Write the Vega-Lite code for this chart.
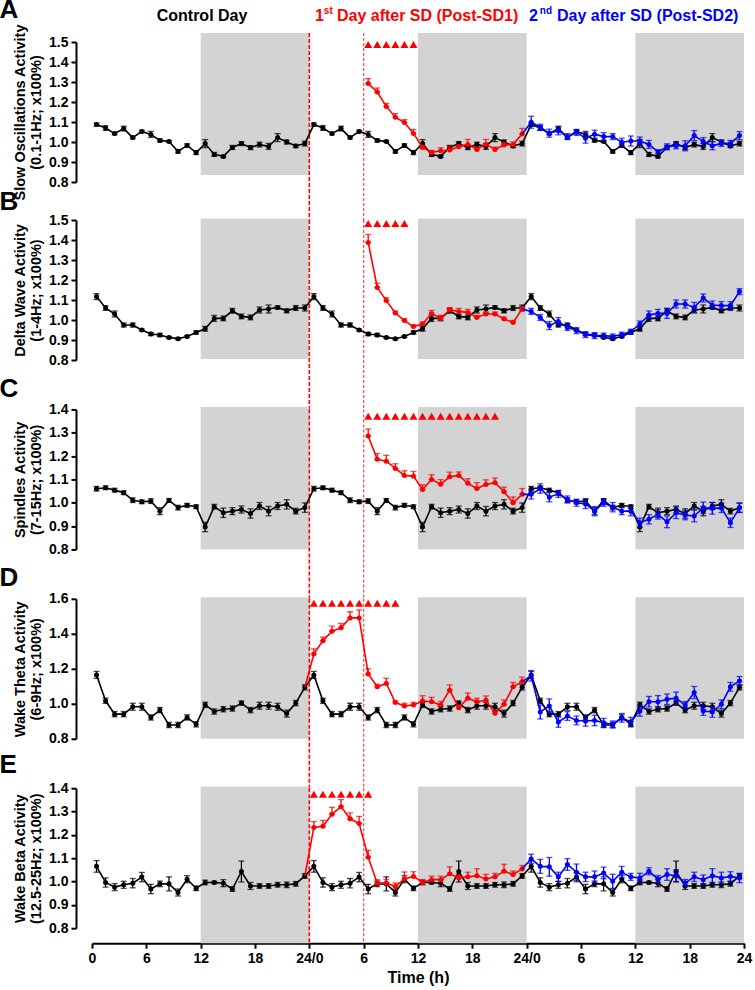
{
"$schema":"https://vega.github.io/schema/vega-lite/v6.json",
"background":"white",
"padding":{"left":-1,"top":-3,"right":5,"bottom":0},
"bounds":"flush",
"spacing":38,
"datasets":{
"dark":[{"h":12,"h2":24},{"h":36,"h2":48},{"h":60,"h2":72}],
"Ac":[{"h":0.5,"v":1.087,"e":0.008},{"h":1.5,"v":1.07,"e":0.012},{"h":2.5,"v":1.042,"e":0.006},{"h":3.5,"v":1.067,"e":0.012},{"h":4.5,"v":1.022,"e":0.006},{"h":5.5,"v":1.053,"e":0.006},{"h":6.5,"v":1.038,"e":0.015},{"h":7.5,"v":1.008,"e":0.008},{"h":8.5,"v":1.003,"e":0.005},{"h":9.5,"v":0.953,"e":0.008},{"h":10.5,"v":0.983,"e":0.008},{"h":11.5,"v":0.947,"e":0.01},{"h":12.5,"v":0.992,"e":0.02},{"h":13.5,"v":0.938,"e":0.01},{"h":14.5,"v":0.928,"e":0.006},{"h":15.5,"v":0.973,"e":0.01},{"h":16.5,"v":0.992,"e":0.01},{"h":17.5,"v":0.972,"e":0.01},{"h":18.5,"v":0.987,"e":0.012},{"h":19.5,"v":0.978,"e":0.015},{"h":20.5,"v":1.022,"e":0.02},{"h":21.5,"v":1.0,"e":0.01},{"h":22.5,"v":0.98,"e":0.008},{"h":23.5,"v":0.992,"e":0.012},
{"h":24.5,"v":1.087,"e":0.008},{"h":25.5,"v":1.07,"e":0.012},{"h":26.5,"v":1.042,"e":0.006},{"h":27.5,"v":1.067,"e":0.012},{"h":28.5,"v":1.022,"e":0.006},{"h":29.5,"v":1.053,"e":0.006},{"h":30.5,"v":1.038,"e":0.015},{"h":31.5,"v":1.008,"e":0.008},{"h":32.5,"v":1.003,"e":0.005},{"h":33.5,"v":0.953,"e":0.008},{"h":34.5,"v":0.983,"e":0.008},{"h":35.5,"v":0.947,"e":0.01},{"h":36.5,"v":0.992,"e":0.02},{"h":37.5,"v":0.938,"e":0.01},{"h":38.5,"v":0.928,"e":0.006},{"h":39.5,"v":0.973,"e":0.01},{"h":40.5,"v":0.992,"e":0.01},{"h":41.5,"v":0.972,"e":0.01},{"h":42.5,"v":0.987,"e":0.012},{"h":43.5,"v":0.978,"e":0.015},{"h":44.5,"v":1.022,"e":0.02},{"h":45.5,"v":1.0,"e":0.01},{"h":46.5,"v":0.98,"e":0.008},{"h":47.5,"v":0.992,"e":0.012},
{"h":48.5,"v":1.087,"e":0.008},{"h":49.5,"v":1.07,"e":0.012},{"h":50.5,"v":1.042,"e":0.006},{"h":51.5,"v":1.067,"e":0.012},{"h":52.5,"v":1.022,"e":0.006},{"h":53.5,"v":1.053,"e":0.006},{"h":54.5,"v":1.038,"e":0.015},{"h":55.5,"v":1.008,"e":0.008},{"h":56.5,"v":1.003,"e":0.005},{"h":57.5,"v":0.953,"e":0.008},{"h":58.5,"v":0.983,"e":0.008},{"h":59.5,"v":0.947,"e":0.01},{"h":60.5,"v":0.992,"e":0.02},{"h":61.5,"v":0.938,"e":0.01},{"h":62.5,"v":0.928,"e":0.006},{"h":63.5,"v":0.973,"e":0.01},{"h":64.5,"v":0.992,"e":0.01},{"h":65.5,"v":0.972,"e":0.01},{"h":66.5,"v":0.987,"e":0.012},{"h":67.5,"v":0.978,"e":0.015},{"h":68.5,"v":1.022,"e":0.02},{"h":69.5,"v":1.0,"e":0.01},{"h":70.5,"v":0.98,"e":0.008},{"h":71.5,"v":0.992,"e":0.012}],
"Ar":[{"h":30.5,"v":1.292,"e":0.025,"e2":0},{"h":31.5,"v":1.25,"e":0.02,"e2":0},{"h":32.5,"v":1.178,"e":0.015,"e2":0},{"h":33.5,"v":1.124,"e":0.018,"e2":0},{"h":34.5,"v":1.097,"e":0.015,"e2":0},{"h":35.5,"v":1.043,"e":0.02,"e2":0},{"h":36.5,"v":0.973,"e":0.01,"e2":0},{"h":37.5,"v":0.948,"e":0.01,"e2":0},{"h":38.5,"v":0.956,"e":0.015,"e2":0},{"h":39.5,"v":0.96,"e":0.02,"e2":0},{"h":40.5,"v":0.976,"e":0.01,"e2":0},{"h":41.5,"v":0.988,"e":0.025,"e2":0},{"h":42.5,"v":0.963,"e":0.01,"e2":0},{"h":43.5,"v":0.988,"e":0.025,"e2":0},{"h":44.5,"v":0.963,"e":0.012,"e2":0},{"h":45.5,"v":0.985,"e":0.012,"e2":0},{"h":46.5,"v":0.988,"e":0.012,"e2":0},{"h":47.5,"v":1.04,"e":0.028,"e2":0}],
"Ab":[{"h":47.5,"v":1.04},{"h":48.5,"v":1.099,"e":0.03},{"h":49.5,"v":1.074,"e":0.015},{"h":50.5,"v":1.044,"e":0.02},{"h":51.5,"v":1.056,"e":0.02},{"h":52.5,"v":1.027,"e":0.015},{"h":53.5,"v":1.048,"e":0.015},{"h":54.5,"v":1.019,"e":0.025},{"h":55.5,"v":1.039,"e":0.02},{"h":56.5,"v":1.027,"e":0.02},{"h":57.5,"v":1.027,"e":0.015},{"h":58.5,"v":0.999,"e":0.02},{"h":59.5,"v":1.005,"e":0.025},{"h":60.5,"v":1.005,"e":0.02},{"h":61.5,"v":0.988,"e":0.02},{"h":62.5,"v":0.951,"e":0.01},{"h":63.5,"v":0.976,"e":0.015},{"h":64.5,"v":0.981,"e":0.015},{"h":65.5,"v":0.981,"e":0.025},{"h":66.5,"v":1.032,"e":0.025},{"h":67.5,"v":1.002,"e":0.02},{"h":68.5,"v":0.981,"e":0.02},{"h":69.5,"v":0.993,"e":0.015},{"h":70.5,"v":0.993,"e":0.015},{"h":71.5,"v":1.032,"e":0.02}],
"At":[{"h":30.5},{"h":31.5},{"h":32.5},{"h":33.5},{"h":34.5},{"h":35.5}],
"Bc":[{"h":0.5,"v":1.117,"e":0.015},{"h":1.5,"v":1.06,"e":0.012},{"h":2.5,"v":1.03,"e":0.015},{"h":3.5,"v":0.975,"e":0.01},{"h":4.5,"v":0.975,"e":0.01},{"h":5.5,"v":0.95,"e":0.005},{"h":6.5,"v":0.93,"e":0.008},{"h":7.5,"v":0.925,"e":0.008},{"h":8.5,"v":0.913,"e":0.005},{"h":9.5,"v":0.906,"e":0.005},{"h":10.5,"v":0.918,"e":0.005},{"h":11.5,"v":0.938,"e":0.008},{"h":12.5,"v":0.956,"e":0.012},{"h":13.5,"v":1.008,"e":0.015},{"h":14.5,"v":1.008,"e":0.012},{"h":15.5,"v":1.046,"e":0.012},{"h":16.5,"v":1.018,"e":0.012},{"h":17.5,"v":1.013,"e":0.012},{"h":18.5,"v":1.05,"e":0.015},{"h":19.5,"v":1.055,"e":0.02},{"h":20.5,"v":1.063,"e":0.008},{"h":21.5,"v":1.046,"e":0.01},{"h":22.5,"v":1.06,"e":0.012},{"h":23.5,"v":1.06,"e":0.015},
{"h":24.5,"v":1.117,"e":0.015},{"h":25.5,"v":1.06,"e":0.012},{"h":26.5,"v":1.03,"e":0.015},{"h":27.5,"v":0.975,"e":0.01},{"h":28.5,"v":0.975,"e":0.01},{"h":29.5,"v":0.95,"e":0.005},{"h":30.5,"v":0.93,"e":0.008},{"h":31.5,"v":0.925,"e":0.008},{"h":32.5,"v":0.913,"e":0.005},{"h":33.5,"v":0.906,"e":0.005},{"h":34.5,"v":0.918,"e":0.005},{"h":35.5,"v":0.938,"e":0.008},{"h":36.5,"v":0.956,"e":0.012},{"h":37.5,"v":1.008,"e":0.015},{"h":38.5,"v":1.008,"e":0.012},{"h":39.5,"v":1.046,"e":0.012},{"h":40.5,"v":1.018,"e":0.012},{"h":41.5,"v":1.013,"e":0.012},{"h":42.5,"v":1.05,"e":0.015},{"h":43.5,"v":1.055,"e":0.02},{"h":44.5,"v":1.063,"e":0.008},{"h":45.5,"v":1.046,"e":0.01},{"h":46.5,"v":1.06,"e":0.012},{"h":47.5,"v":1.06,"e":0.015},
{"h":48.5,"v":1.117,"e":0.015},{"h":49.5,"v":1.06,"e":0.012},{"h":50.5,"v":1.03,"e":0.015},{"h":51.5,"v":0.975,"e":0.01},{"h":52.5,"v":0.975,"e":0.01},{"h":53.5,"v":0.95,"e":0.005},{"h":54.5,"v":0.93,"e":0.008},{"h":55.5,"v":0.925,"e":0.008},{"h":56.5,"v":0.913,"e":0.005},{"h":57.5,"v":0.906,"e":0.005},{"h":58.5,"v":0.918,"e":0.005},{"h":59.5,"v":0.938,"e":0.008},{"h":60.5,"v":0.956,"e":0.012},{"h":61.5,"v":1.008,"e":0.015},{"h":62.5,"v":1.008,"e":0.012},{"h":63.5,"v":1.046,"e":0.012},{"h":64.5,"v":1.018,"e":0.012},{"h":65.5,"v":1.013,"e":0.012},{"h":66.5,"v":1.05,"e":0.015},{"h":67.5,"v":1.055,"e":0.02},{"h":68.5,"v":1.063,"e":0.008},{"h":69.5,"v":1.046,"e":0.01},{"h":70.5,"v":1.06,"e":0.012},{"h":71.5,"v":1.06,"e":0.015}],
"Br":[{"h":30.5,"v":1.388,"e":0.04,"e2":0},{"h":31.5,"v":1.163,"e":0.02,"e2":0},{"h":32.5,"v":1.097,"e":0.015,"e2":0},{"h":33.5,"v":1.035,"e":0.01,"e2":0},{"h":34.5,"v":0.997,"e":0.01,"e2":0},{"h":35.5,"v":0.967,"e":0.008,"e2":0},{"h":36.5,"v":0.98,"e":0.01,"e2":0},{"h":37.5,"v":1.033,"e":0.015,"e2":0},{"h":38.5,"v":1.008,"e":0.015,"e2":0},{"h":39.5,"v":1.05,"e":0.012,"e2":0},{"h":40.5,"v":1.043,"e":0.015,"e2":0},{"h":41.5,"v":1.038,"e":0.015,"e2":0},{"h":42.5,"v":1.013,"e":0.01,"e2":0},{"h":43.5,"v":1.03,"e":0.01,"e2":0},{"h":44.5,"v":1.03,"e":0.01,"e2":0},{"h":45.5,"v":1.005,"e":0.01,"e2":0},{"h":46.5,"v":0.988,"e":0.01,"e2":0},{"h":47.5,"v":1.055,"e":0.012,"e2":0}],
"Bb":[{"h":47.5,"v":1.055},{"h":48.5,"v":1.043,"e":0.015},{"h":49.5,"v":1.013,"e":0.015},{"h":50.5,"v":0.972,"e":0.02},{"h":51.5,"v":0.992,"e":0.02},{"h":52.5,"v":0.963,"e":0.015},{"h":53.5,"v":0.947,"e":0.015},{"h":54.5,"v":0.927,"e":0.015},{"h":55.5,"v":0.922,"e":0.015},{"h":56.5,"v":0.922,"e":0.012},{"h":57.5,"v":0.918,"e":0.012},{"h":58.5,"v":0.927,"e":0.012},{"h":59.5,"v":0.942,"e":0.012},{"h":60.5,"v":0.98,"e":0.015},{"h":61.5,"v":1.025,"e":0.02},{"h":62.5,"v":1.033,"e":0.02},{"h":63.5,"v":1.033,"e":0.025},{"h":64.5,"v":1.08,"e":0.02},{"h":65.5,"v":1.08,"e":0.02},{"h":66.5,"v":1.063,"e":0.025},{"h":67.5,"v":1.11,"e":0.02},{"h":68.5,"v":1.075,"e":0.02},{"h":69.5,"v":1.072,"e":0.02},{"h":70.5,"v":1.072,"e":0.02},{"h":71.5,"v":1.142,"e":0.015}],
"Bt":[{"h":30.5},{"h":31.5},{"h":32.5},{"h":33.5},{"h":34.5}],
"Cc":[{"h":0.5,"v":1.06,"e":0.01},{"h":1.5,"v":1.064,"e":0.008},{"h":2.5,"v":1.054,"e":0.008},{"h":3.5,"v":1.043,"e":0.008},{"h":4.5,"v":1.011,"e":0.01},{"h":5.5,"v":1.004,"e":0.008},{"h":6.5,"v":1.007,"e":0.01},{"h":7.5,"v":0.964,"e":0.015},{"h":8.5,"v":1.01,"e":0.008},{"h":9.5,"v":0.979,"e":0.01},{"h":10.5,"v":0.989,"e":0.008},{"h":11.5,"v":0.983,"e":0.008},{"h":12.5,"v":0.896,"e":0.02},{"h":13.5,"v":0.983,"e":0.01},{"h":14.5,"v":0.957,"e":0.02},{"h":15.5,"v":0.964,"e":0.015},{"h":16.5,"v":0.971,"e":0.015},{"h":17.5,"v":0.954,"e":0.02},{"h":18.5,"v":0.986,"e":0.015},{"h":19.5,"v":0.964,"e":0.02},{"h":20.5,"v":0.986,"e":0.015},{"h":21.5,"v":0.993,"e":0.02},{"h":22.5,"v":0.964,"e":0.012},{"h":23.5,"v":0.979,"e":0.02},
{"h":24.5,"v":1.06,"e":0.01},{"h":25.5,"v":1.064,"e":0.008},{"h":26.5,"v":1.054,"e":0.008},{"h":27.5,"v":1.043,"e":0.008},{"h":28.5,"v":1.011,"e":0.01},{"h":29.5,"v":1.004,"e":0.008},{"h":30.5,"v":1.007,"e":0.01},{"h":31.5,"v":0.964,"e":0.015},{"h":32.5,"v":1.01,"e":0.008},{"h":33.5,"v":0.979,"e":0.01},{"h":34.5,"v":0.989,"e":0.008},{"h":35.5,"v":0.983,"e":0.008},{"h":36.5,"v":0.896,"e":0.02},{"h":37.5,"v":0.983,"e":0.01},{"h":38.5,"v":0.957,"e":0.02},{"h":39.5,"v":0.964,"e":0.015},{"h":40.5,"v":0.971,"e":0.015},{"h":41.5,"v":0.954,"e":0.02},{"h":42.5,"v":0.986,"e":0.015},{"h":43.5,"v":0.964,"e":0.02},{"h":44.5,"v":0.986,"e":0.015},{"h":45.5,"v":0.993,"e":0.02},{"h":46.5,"v":0.964,"e":0.012},{"h":47.5,"v":0.979,"e":0.02},
{"h":48.5,"v":1.06,"e":0.01},{"h":49.5,"v":1.064,"e":0.008},{"h":50.5,"v":1.054,"e":0.008},{"h":51.5,"v":1.043,"e":0.008},{"h":52.5,"v":1.011,"e":0.01},{"h":53.5,"v":1.004,"e":0.008},{"h":54.5,"v":1.007,"e":0.01},{"h":55.5,"v":0.964,"e":0.015},{"h":56.5,"v":1.01,"e":0.008},{"h":57.5,"v":0.979,"e":0.01},{"h":58.5,"v":0.989,"e":0.008},{"h":59.5,"v":0.983,"e":0.008},{"h":60.5,"v":0.896,"e":0.02},{"h":61.5,"v":0.983,"e":0.01},{"h":62.5,"v":0.957,"e":0.02},{"h":63.5,"v":0.964,"e":0.015},{"h":64.5,"v":0.971,"e":0.015},{"h":65.5,"v":0.954,"e":0.02},{"h":66.5,"v":0.986,"e":0.015},{"h":67.5,"v":0.964,"e":0.02},{"h":68.5,"v":0.986,"e":0.015},{"h":69.5,"v":0.993,"e":0.02},{"h":70.5,"v":0.964,"e":0.012},{"h":71.5,"v":0.979,"e":0.02}],
"Cr":[{"h":30.5,"v":1.286,"e":0.03,"e2":0},{"h":31.5,"v":1.186,"e":0.025,"e2":0},{"h":32.5,"v":1.178,"e":0.025,"e2":0},{"h":33.5,"v":1.147,"e":0.02,"e2":0},{"h":34.5,"v":1.117,"e":0.02,"e2":0},{"h":35.5,"v":1.114,"e":0.02,"e2":0},{"h":36.5,"v":1.057,"e":0.02,"e2":0},{"h":37.5,"v":1.1,"e":0.02,"e2":0},{"h":38.5,"v":1.079,"e":0.02,"e2":0},{"h":39.5,"v":1.111,"e":0.02,"e2":0},{"h":40.5,"v":1.117,"e":0.015,"e2":0},{"h":41.5,"v":1.083,"e":0.02,"e2":0},{"h":42.5,"v":1.061,"e":0.025,"e2":0},{"h":43.5,"v":1.078,"e":0.02,"e2":0},{"h":44.5,"v":1.086,"e":0.02,"e2":0},{"h":45.5,"v":1.047,"e":0.02,"e2":0},{"h":46.5,"v":1.0,"e":0.025,"e2":0},{"h":47.5,"v":1.036,"e":0.025,"e2":0}],
"Cb":[{"h":47.5,"v":1.036},{"h":48.5,"v":1.036,"e":0.02},{"h":49.5,"v":1.061,"e":0.02},{"h":50.5,"v":1.024,"e":0.02},{"h":51.5,"v":1.038,"e":0.015},{"h":52.5,"v":1.014,"e":0.015},{"h":53.5,"v":1.0,"e":0.015},{"h":54.5,"v":0.995,"e":0.02},{"h":55.5,"v":0.964,"e":0.02},{"h":56.5,"v":1.0,"e":0.015},{"h":57.5,"v":0.981,"e":0.02},{"h":58.5,"v":0.964,"e":0.015},{"h":59.5,"v":0.964,"e":0.02},{"h":60.5,"v":0.914,"e":0.02},{"h":61.5,"v":0.929,"e":0.02},{"h":62.5,"v":0.95,"e":0.02},{"h":63.5,"v":0.918,"e":0.025},{"h":64.5,"v":0.957,"e":0.025},{"h":65.5,"v":0.947,"e":0.02},{"h":66.5,"v":0.943,"e":0.025},{"h":67.5,"v":0.978,"e":0.025},{"h":68.5,"v":0.976,"e":0.025},{"h":69.5,"v":0.978,"e":0.02},{"h":70.5,"v":0.914,"e":0.02},{"h":71.5,"v":0.978,"e":0.02}],
"Ct":[{"h":30.5},{"h":31.5},{"h":32.5},{"h":33.5},{"h":34.5},{"h":35.5},{"h":36.5},{"h":37.5},{"h":38.5},{"h":39.5},{"h":40.5},{"h":41.5},{"h":42.5},{"h":43.5},{"h":44.5}],
"Dc":[{"h":0.5,"v":1.165,"e":0.02},{"h":1.5,"v":1.017,"e":0.015},{"h":2.5,"v":0.941,"e":0.015},{"h":3.5,"v":0.941,"e":0.015},{"h":4.5,"v":0.983,"e":0.02},{"h":5.5,"v":0.983,"e":0.02},{"h":6.5,"v":0.922,"e":0.015},{"h":7.5,"v":0.964,"e":0.015},{"h":8.5,"v":0.879,"e":0.015},{"h":9.5,"v":0.879,"e":0.015},{"h":10.5,"v":0.922,"e":0.015},{"h":11.5,"v":0.883,"e":0.015},{"h":12.5,"v":0.994,"e":0.015},{"h":13.5,"v":0.956,"e":0.015},{"h":14.5,"v":0.969,"e":0.015},{"h":15.5,"v":0.973,"e":0.015},{"h":16.5,"v":1.004,"e":0.012},{"h":17.5,"v":0.964,"e":0.015},{"h":18.5,"v":0.989,"e":0.02},{"h":19.5,"v":0.989,"e":0.02},{"h":20.5,"v":0.983,"e":0.02},{"h":21.5,"v":0.944,"e":0.02},{"h":22.5,"v":1.004,"e":0.015},{"h":23.5,"v":1.094,"e":0.015},
{"h":24.5,"v":1.165,"e":0.02},{"h":25.5,"v":1.017,"e":0.015},{"h":26.5,"v":0.941,"e":0.015},{"h":27.5,"v":0.941,"e":0.015},{"h":28.5,"v":0.983,"e":0.02},{"h":29.5,"v":0.983,"e":0.02},{"h":30.5,"v":0.922,"e":0.015},{"h":31.5,"v":0.964,"e":0.015},{"h":32.5,"v":0.879,"e":0.015},{"h":33.5,"v":0.879,"e":0.015},{"h":34.5,"v":0.922,"e":0.015},{"h":35.5,"v":0.883,"e":0.015},{"h":36.5,"v":0.994,"e":0.015},{"h":37.5,"v":0.956,"e":0.015},{"h":38.5,"v":0.969,"e":0.015},{"h":39.5,"v":0.973,"e":0.015},{"h":40.5,"v":1.004,"e":0.012},{"h":41.5,"v":0.964,"e":0.015},{"h":42.5,"v":0.989,"e":0.02},{"h":43.5,"v":0.989,"e":0.02},{"h":44.5,"v":0.983,"e":0.02},{"h":45.5,"v":0.944,"e":0.02},{"h":46.5,"v":1.004,"e":0.015},{"h":47.5,"v":1.094,"e":0.015},
{"h":48.5,"v":1.165,"e":0.02},{"h":49.5,"v":1.017,"e":0.015},{"h":50.5,"v":0.941,"e":0.015},{"h":51.5,"v":0.941,"e":0.015},{"h":52.5,"v":0.983,"e":0.02},{"h":53.5,"v":0.983,"e":0.02},{"h":54.5,"v":0.922,"e":0.015},{"h":55.5,"v":0.964,"e":0.015},{"h":56.5,"v":0.879,"e":0.015},{"h":57.5,"v":0.879,"e":0.015},{"h":58.5,"v":0.922,"e":0.015},{"h":59.5,"v":0.883,"e":0.015},{"h":60.5,"v":0.994,"e":0.015},{"h":61.5,"v":0.956,"e":0.015},{"h":62.5,"v":0.969,"e":0.015},{"h":63.5,"v":0.973,"e":0.015},{"h":64.5,"v":1.004,"e":0.012},{"h":65.5,"v":0.964,"e":0.015},{"h":66.5,"v":0.989,"e":0.02},{"h":67.5,"v":0.989,"e":0.02},{"h":68.5,"v":0.983,"e":0.02},{"h":69.5,"v":0.944,"e":0.02},{"h":70.5,"v":1.004,"e":0.015},{"h":71.5,"v":1.094,"e":0.015}],
"Dr":[{"h":23.5,"v":1.094},{"h":24.5,"v":1.284,"e":0.03,"e2":0},{"h":25.5,"v":1.361,"e":0.02,"e2":0},{"h":26.5,"v":1.414,"e":0.03,"e2":0},{"h":27.5,"v":1.434,"e":0.025,"e2":0},{"h":28.5,"v":1.491,"e":0.035,"e2":0},{"h":29.5,"v":1.491,"e":0.045,"e2":0},{"h":30.5,"v":1.17,"e":0.03,"e2":0},{"h":31.5,"v":1.097,"e":0.015,"e2":0},{"h":32.5,"v":1.116,"e":0.03,"e2":0},{"h":33.5,"v":1.007,"e":0.01,"e2":0},{"h":34.5,"v":0.988,"e":0.015,"e2":0},{"h":35.5,"v":0.993,"e":0.015,"e2":0},{"h":36.5,"v":1.016,"e":0.03,"e2":0},{"h":37.5,"v":1.012,"e":0.025,"e2":0},{"h":38.5,"v":0.993,"e":0.02,"e2":0},{"h":39.5,"v":1.078,"e":0.03,"e2":0},{"h":40.5,"v":0.978,"e":0.01,"e2":0},{"h":41.5,"v":1.032,"e":0.03,"e2":0},{"h":42.5,"v":1.012,"e":0.02,"e2":0},{"h":43.5,"v":1.02,"e":0.025,"e2":0},{"h":44.5,"v":0.946,"e":0.01,"e2":0},{"h":45.5,"v":0.997,"e":0.025,"e2":0},{"h":46.5,"v":1.097,"e":0.025,"e2":0},{"h":47.5,"v":1.127,"e":0.025,"e2":0}],
"Db":[{"h":47.5,"v":1.127},{"h":48.5,"v":1.16,"e":0.03},{"h":49.5,"v":0.953,"e":0.04},{"h":50.5,"v":0.988,"e":0.04},{"h":51.5,"v":0.896,"e":0.03},{"h":52.5,"v":0.93,"e":0.025},{"h":53.5,"v":0.905,"e":0.025},{"h":54.5,"v":0.902,"e":0.03},{"h":55.5,"v":0.905,"e":0.03},{"h":56.5,"v":0.892,"e":0.025},{"h":57.5,"v":0.882,"e":0.02},{"h":58.5,"v":0.92,"e":0.025},{"h":59.5,"v":0.898,"e":0.025},{"h":60.5,"v":0.959,"e":0.03},{"h":61.5,"v":1.012,"e":0.03},{"h":62.5,"v":1.012,"e":0.035},{"h":63.5,"v":1.026,"e":0.03},{"h":64.5,"v":1.032,"e":0.035},{"h":65.5,"v":0.993,"e":0.02},{"h":66.5,"v":1.064,"e":0.035},{"h":67.5,"v":0.959,"e":0.025},{"h":68.5,"v":0.953,"e":0.03},{"h":69.5,"v":0.997,"e":0.025},{"h":70.5,"v":1.097,"e":0.025},{"h":71.5,"v":1.131,"e":0.025}],
"Dt":[{"h":24.5},{"h":25.5},{"h":26.5},{"h":27.5},{"h":28.5},{"h":29.5},{"h":30.5},{"h":31.5},{"h":32.5},{"h":33.5}],
"Ec":[{"h":0.5,"v":1.065,"e":0.025},{"h":1.5,"v":0.996,"e":0.02},{"h":2.5,"v":0.976,"e":0.015},{"h":3.5,"v":0.986,"e":0.015},{"h":4.5,"v":0.993,"e":0.02},{"h":5.5,"v":1.019,"e":0.02},{"h":6.5,"v":0.968,"e":0.02},{"h":7.5,"v":0.99,"e":0.012},{"h":8.5,"v":0.99,"e":0.03},{"h":9.5,"v":0.953,"e":0.015},{"h":10.5,"v":1.01,"e":0.015},{"h":11.5,"v":0.971,"e":0.01},{"h":12.5,"v":0.996,"e":0.01},{"h":13.5,"v":0.996,"e":0.005},{"h":14.5,"v":0.993,"e":0.015},{"h":15.5,"v":0.968,"e":0.01},{"h":16.5,"v":1.043,"e":0.045},{"h":17.5,"v":0.981,"e":0.015},{"h":18.5,"v":0.981,"e":0.01},{"h":19.5,"v":0.981,"e":0.01},{"h":20.5,"v":0.986,"e":0.01},{"h":21.5,"v":0.986,"e":0.012},{"h":22.5,"v":0.99,"e":0.01},{"h":23.5,"v":1.024,"e":0.01},
{"h":24.5,"v":1.065,"e":0.025},{"h":25.5,"v":0.996,"e":0.02},{"h":26.5,"v":0.976,"e":0.015},{"h":27.5,"v":0.986,"e":0.015},{"h":28.5,"v":0.993,"e":0.02},{"h":29.5,"v":1.019,"e":0.02},{"h":30.5,"v":0.968,"e":0.02},{"h":31.5,"v":0.99,"e":0.012},{"h":32.5,"v":0.99,"e":0.03},{"h":33.5,"v":0.953,"e":0.015},{"h":34.5,"v":1.01,"e":0.015},{"h":35.5,"v":0.971,"e":0.01},{"h":36.5,"v":0.996,"e":0.01},{"h":37.5,"v":0.996,"e":0.005},{"h":38.5,"v":0.993,"e":0.015},{"h":39.5,"v":0.968,"e":0.01},{"h":40.5,"v":1.043,"e":0.045},{"h":41.5,"v":0.981,"e":0.015},{"h":42.5,"v":0.981,"e":0.01},{"h":43.5,"v":0.981,"e":0.01},{"h":44.5,"v":0.986,"e":0.01},{"h":45.5,"v":0.986,"e":0.012},{"h":46.5,"v":0.99,"e":0.01},{"h":47.5,"v":1.024,"e":0.01},
{"h":48.5,"v":1.065,"e":0.025},{"h":49.5,"v":0.996,"e":0.02},{"h":50.5,"v":0.976,"e":0.015},{"h":51.5,"v":0.986,"e":0.015},{"h":52.5,"v":0.993,"e":0.02},{"h":53.5,"v":1.019,"e":0.02},{"h":54.5,"v":0.968,"e":0.02},{"h":55.5,"v":0.99,"e":0.012},{"h":56.5,"v":0.99,"e":0.03},{"h":57.5,"v":0.953,"e":0.015},{"h":58.5,"v":1.01,"e":0.015},{"h":59.5,"v":0.971,"e":0.01},{"h":60.5,"v":0.996,"e":0.01},{"h":61.5,"v":0.996,"e":0.005},{"h":62.5,"v":0.993,"e":0.015},{"h":63.5,"v":0.968,"e":0.01},{"h":64.5,"v":1.043,"e":0.045},{"h":65.5,"v":0.981,"e":0.015},{"h":66.5,"v":0.981,"e":0.01},{"h":67.5,"v":0.981,"e":0.01},{"h":68.5,"v":0.986,"e":0.01},{"h":69.5,"v":0.986,"e":0.012},{"h":70.5,"v":0.99,"e":0.01},{"h":71.5,"v":1.024,"e":0.01}],
"Er":[{"h":23.5,"v":1.024},{"h":24.5,"v":1.232,"e":0.025,"e2":0},{"h":25.5,"v":1.237,"e":0.025,"e2":0},{"h":26.5,"v":1.288,"e":0.03,"e2":0},{"h":27.5,"v":1.321,"e":0.03,"e2":0},{"h":28.5,"v":1.269,"e":0.025,"e2":0},{"h":29.5,"v":1.249,"e":0.03,"e2":0},{"h":30.5,"v":1.104,"e":0.03,"e2":0},{"h":31.5,"v":0.993,"e":0.015,"e2":0},{"h":32.5,"v":0.994,"e":0.015,"e2":0},{"h":33.5,"v":0.979,"e":0.015,"e2":0},{"h":34.5,"v":1.011,"e":0.03,"e2":0},{"h":35.5,"v":1.022,"e":0.02,"e2":0},{"h":36.5,"v":0.996,"e":0.012,"e2":0},{"h":37.5,"v":1.008,"e":0.015,"e2":0},{"h":38.5,"v":1.008,"e":0.015,"e2":0},{"h":39.5,"v":1.033,"e":0.03,"e2":0},{"h":40.5,"v":1.015,"e":0.012,"e2":0},{"h":41.5,"v":1.02,"e":0.02,"e2":0},{"h":42.5,"v":1.025,"e":0.03,"e2":0},{"h":43.5,"v":1.011,"e":0.02,"e2":0},{"h":44.5,"v":1.02,"e":0.015,"e2":0},{"h":45.5,"v":1.044,"e":0.03,"e2":0},{"h":46.5,"v":1.03,"e":0.015,"e2":0},{"h":47.5,"v":1.054,"e":0.015,"e2":0}],
"Eb":[{"h":47.5,"v":1.054},{"h":48.5,"v":1.097,"e":0.02},{"h":49.5,"v":1.065,"e":0.03},{"h":50.5,"v":1.063,"e":0.04},{"h":51.5,"v":1.02,"e":0.02},{"h":52.5,"v":1.073,"e":0.025},{"h":53.5,"v":1.04,"e":0.035},{"h":54.5,"v":1.02,"e":0.02},{"h":55.5,"v":1.02,"e":0.025},{"h":56.5,"v":1.037,"e":0.025},{"h":57.5,"v":1.001,"e":0.03},{"h":58.5,"v":1.04,"e":0.025},{"h":59.5,"v":1.02,"e":0.015},{"h":60.5,"v":1.015,"e":0.02},{"h":61.5,"v":1.044,"e":0.015},{"h":62.5,"v":1.011,"e":0.015},{"h":63.5,"v":1.03,"e":0.025},{"h":64.5,"v":1.025,"e":0.025},{"h":65.5,"v":0.994,"e":0.015},{"h":66.5,"v":1.02,"e":0.02},{"h":67.5,"v":1.008,"e":0.02},{"h":68.5,"v":1.025,"e":0.03},{"h":69.5,"v":1.015,"e":0.025},{"h":70.5,"v":1.022,"e":0.02},{"h":71.5,"v":1.015,"e":0.02}],
"Et":[{"h":24.5},{"h":25.5},{"h":26.5},{"h":27.5},{"h":28.5},{"h":29.5},{"h":30.5}]
},
"vconcat":[
{
"width":652,"height":140,
"title":{"text":"A","offset":-17,"dx":-13},
"layer":[
{"data":{"name":"dark"},"mark":{"type":"rect","color":"#d3d3d3"},"encoding":{"x":{"field":"h","type":"quantitative","scale":{"domain":[0,72],"nice":false,"zero":false},"axis":null},"x2":{"field":"h2"},"y":{"datum":0.835,"type":"quantitative","scale":{"domain":[0.8,1.5],"nice":false,"zero":false},"title":["Slow Oscillations Activity","(0.1-1Hz; x100%)"],"axis":{"values":[0.8,0.9,1,1.1,1.2,1.3,1.4,1.5],"format":".1f","labelOverlap":false}},"y2":{"datum":1.545}}},
{"data":{"values":[{"h":24}]},"mark":{"type":"rule","color":"#ff0000","strokeDash":[4,2],"strokeWidth":1.6},"encoding":{"x":{"field":"h","type":"quantitative","scale":{"domain":[0,72],"nice":false,"zero":false},"axis":null},"y":{"datum":1.545,"type":"quantitative","scale":{"domain":[0.8,1.5],"nice":false,"zero":false},"title":["Slow Oscillations Activity","(0.1-1Hz; x100%)"],"axis":{"values":[0.8,0.9,1,1.1,1.2,1.3,1.4,1.5],"format":".1f","labelOverlap":false}},"y2":{"datum":0.605}}},
{"data":{"values":[{"h":30}]},"mark":{"type":"rule","color":"#ff5050","strokeDash":[3,2],"strokeWidth":1.3},"encoding":{"x":{"field":"h","type":"quantitative","scale":{"domain":[0,72],"nice":false,"zero":false},"axis":null},"y":{"datum":1.545,"type":"quantitative","scale":{"domain":[0.8,1.5],"nice":false,"zero":false},"title":["Slow Oscillations Activity","(0.1-1Hz; x100%)"],"axis":{"values":[0.8,0.9,1,1.1,1.2,1.3,1.4,1.5],"format":".1f","labelOverlap":false}},"y2":{"datum":0.605}}},
{"data":{"name":"Ac"},"mark":{"type":"line","color":"#000","strokeWidth":1.6},"encoding":{"x":{"field":"h","type":"quantitative","scale":{"domain":[0,72],"nice":false,"zero":false},"axis":null},"y":{"field":"v","type":"quantitative","scale":{"domain":[0.8,1.5],"nice":false,"zero":false},"title":["Slow Oscillations Activity","(0.1-1Hz; x100%)"],"axis":{"values":[0.8,0.9,1,1.1,1.2,1.3,1.4,1.5],"format":".1f","labelOverlap":false}}}},
{"data":{"name":"Ac"},"mark":{"type":"errorbar","color":"#000","ticks":true,"size":6,"thickness":1.3},"encoding":{"x":{"field":"h","type":"quantitative","scale":{"domain":[0,72],"nice":false,"zero":false},"axis":null},"y":{"field":"v","type":"quantitative","scale":{"domain":[0.8,1.5],"nice":false,"zero":false},"title":["Slow Oscillations Activity","(0.1-1Hz; x100%)"],"axis":{"values":[0.8,0.9,1,1.1,1.2,1.3,1.4,1.5],"format":".1f","labelOverlap":false}},"yError":{"field":"e"}}},
{"data":{"name":"Ac"},"mark":{"type":"circle","color":"#000","size":25,"opacity":1},"encoding":{"x":{"field":"h","type":"quantitative","scale":{"domain":[0,72],"nice":false,"zero":false},"axis":null},"y":{"field":"v","type":"quantitative","scale":{"domain":[0.8,1.5],"nice":false,"zero":false},"title":["Slow Oscillations Activity","(0.1-1Hz; x100%)"],"axis":{"values":[0.8,0.9,1,1.1,1.2,1.3,1.4,1.5],"format":".1f","labelOverlap":false}}}},
{"data":{"name":"Ar"},"mark":{"type":"line","color":"#ff0000","strokeWidth":1.6},"encoding":{"x":{"field":"h","type":"quantitative","scale":{"domain":[0,72],"nice":false,"zero":false},"axis":null},"y":{"field":"v","type":"quantitative","scale":{"domain":[0.8,1.5],"nice":false,"zero":false},"title":["Slow Oscillations Activity","(0.1-1Hz; x100%)"],"axis":{"values":[0.8,0.9,1,1.1,1.2,1.3,1.4,1.5],"format":".1f","labelOverlap":false}}}},
{"data":{"name":"Ar"},"transform":[{"filter":"datum.h > 24"}],"mark":{"type":"errorbar","color":"#ff0000","ticks":true,"size":6,"thickness":1.3},"encoding":{"x":{"field":"h","type":"quantitative","scale":{"domain":[0,72],"nice":false,"zero":false},"axis":null},"y":{"field":"v","type":"quantitative","scale":{"domain":[0.8,1.5],"nice":false,"zero":false},"title":["Slow Oscillations Activity","(0.1-1Hz; x100%)"],"axis":{"values":[0.8,0.9,1,1.1,1.2,1.3,1.4,1.5],"format":".1f","labelOverlap":false}},"yError":{"field":"e"},"yError2":{"field":"e2"}}},
{"data":{"name":"Ar"},"transform":[{"filter":"datum.h > 24"}],"mark":{"type":"circle","color":"#ff0000","size":25,"opacity":1},"encoding":{"x":{"field":"h","type":"quantitative","scale":{"domain":[0,72],"nice":false,"zero":false},"axis":null},"y":{"field":"v","type":"quantitative","scale":{"domain":[0.8,1.5],"nice":false,"zero":false},"title":["Slow Oscillations Activity","(0.1-1Hz; x100%)"],"axis":{"values":[0.8,0.9,1,1.1,1.2,1.3,1.4,1.5],"format":".1f","labelOverlap":false}}}},
{"data":{"name":"Ab"},"mark":{"type":"line","color":"#0000ff","strokeWidth":1.6},"encoding":{"x":{"field":"h","type":"quantitative","scale":{"domain":[0,72],"nice":false,"zero":false},"axis":null},"y":{"field":"v","type":"quantitative","scale":{"domain":[0.8,1.5],"nice":false,"zero":false},"title":["Slow Oscillations Activity","(0.1-1Hz; x100%)"],"axis":{"values":[0.8,0.9,1,1.1,1.2,1.3,1.4,1.5],"format":".1f","labelOverlap":false}}}},
{"data":{"name":"Ab"},"transform":[{"filter":"datum.h > 48"}],"mark":{"type":"errorbar","color":"#0000ff","ticks":true,"size":6,"thickness":1.3},"encoding":{"x":{"field":"h","type":"quantitative","scale":{"domain":[0,72],"nice":false,"zero":false},"axis":null},"y":{"field":"v","type":"quantitative","scale":{"domain":[0.8,1.5],"nice":false,"zero":false},"title":["Slow Oscillations Activity","(0.1-1Hz; x100%)"],"axis":{"values":[0.8,0.9,1,1.1,1.2,1.3,1.4,1.5],"format":".1f","labelOverlap":false}},"yError":{"field":"e"}}},
{"data":{"name":"Ab"},"transform":[{"filter":"datum.h > 48"}],"mark":{"type":"circle","color":"#0000ff","size":25,"opacity":1},"encoding":{"x":{"field":"h","type":"quantitative","scale":{"domain":[0,72],"nice":false,"zero":false},"axis":null},"y":{"field":"v","type":"quantitative","scale":{"domain":[0.8,1.5],"nice":false,"zero":false},"title":["Slow Oscillations Activity","(0.1-1Hz; x100%)"],"axis":{"values":[0.8,0.9,1,1.1,1.2,1.3,1.4,1.5],"format":".1f","labelOverlap":false}}}},
{"data":{"name":"At"},"mark":{"type":"point","shape":"triangle-up","filled":true,"color":"#ff0000","size":65,"opacity":1},"encoding":{"x":{"field":"h","type":"quantitative","scale":{"domain":[0,72],"nice":false,"zero":false},"axis":null},"y":{"datum":1.488,"type":"quantitative","scale":{"domain":[0.8,1.5],"nice":false,"zero":false},"title":["Slow Oscillations Activity","(0.1-1Hz; x100%)"],"axis":{"values":[0.8,0.9,1,1.1,1.2,1.3,1.4,1.5],"format":".1f","labelOverlap":false}}}},
{"data":{"values":[{"h":12.15,"t":"Control Day"}]},"mark":{"type":"text","align":"center","baseline":"alphabetic","fontSize":16,"fontWeight":"bold","color":"#000"},"encoding":{"text":{"field":"t"},"x":{"field":"h","type":"quantitative","scale":{"domain":[0,72],"nice":false,"zero":false},"axis":null},"y":{"datum":1.605,"type":"quantitative","scale":{"domain":[0.8,1.5],"nice":false,"zero":false},"title":["Slow Oscillations Activity","(0.1-1Hz; x100%)"],"axis":{"values":[0.8,0.9,1,1.1,1.2,1.3,1.4,1.5],"format":".1f","labelOverlap":false}}}},
{"data":{"values":[{"h":24.62,"t":"1"},{"h":27.05,"t":"Day after SD (Post-SD1)"}]},"mark":{"type":"text","align":"left","baseline":"alphabetic","fontSize":16,"fontWeight":"bold","color":"#ff0000"},"encoding":{"text":{"field":"t"},"x":{"field":"h","type":"quantitative","scale":{"domain":[0,72],"nice":false,"zero":false},"axis":null},"y":{"datum":1.605,"type":"quantitative","scale":{"domain":[0.8,1.5],"nice":false,"zero":false},"title":["Slow Oscillations Activity","(0.1-1Hz; x100%)"],"axis":{"values":[0.8,0.9,1,1.1,1.2,1.3,1.4,1.5],"format":".1f","labelOverlap":false}}}},
{"data":{"values":[{"h":25.6,"t":"st"}]},"mark":{"type":"text","align":"left","baseline":"alphabetic","fontSize":10,"fontWeight":"bold","color":"#ff0000","dy":-7},"encoding":{"text":{"field":"t"},"x":{"field":"h","type":"quantitative","scale":{"domain":[0,72],"nice":false,"zero":false},"axis":null},"y":{"datum":1.605,"type":"quantitative","scale":{"domain":[0.8,1.5],"nice":false,"zero":false},"title":["Slow Oscillations Activity","(0.1-1Hz; x100%)"],"axis":{"values":[0.8,0.9,1,1.1,1.2,1.3,1.4,1.5],"format":".1f","labelOverlap":false}}}},
{"data":{"values":[{"h":48.26,"t":"2"},{"h":51.35,"t":"Day after SD (Post-SD2)"}]},"mark":{"type":"text","align":"left","baseline":"alphabetic","fontSize":16,"fontWeight":"bold","color":"#0000ff"},"encoding":{"text":{"field":"t"},"x":{"field":"h","type":"quantitative","scale":{"domain":[0,72],"nice":false,"zero":false},"axis":null},"y":{"datum":1.605,"type":"quantitative","scale":{"domain":[0.8,1.5],"nice":false,"zero":false},"title":["Slow Oscillations Activity","(0.1-1Hz; x100%)"],"axis":{"values":[0.8,0.9,1,1.1,1.2,1.3,1.4,1.5],"format":".1f","labelOverlap":false}}}},
{"data":{"values":[{"h":49.45,"t":"nd"}]},"mark":{"type":"text","align":"left","baseline":"alphabetic","fontSize":10,"fontWeight":"bold","color":"#0000ff","dy":-7},"encoding":{"text":{"field":"t"},"x":{"field":"h","type":"quantitative","scale":{"domain":[0,72],"nice":false,"zero":false},"axis":null},"y":{"datum":1.605,"type":"quantitative","scale":{"domain":[0.8,1.5],"nice":false,"zero":false},"title":["Slow Oscillations Activity","(0.1-1Hz; x100%)"],"axis":{"values":[0.8,0.9,1,1.1,1.2,1.3,1.4,1.5],"format":".1f","labelOverlap":false}}}}
]
},
{
"bounds":"flush",
"spacing":49.4,
"vconcat":[
{
"width":652,"height":140,
"title":{"text":"B","offset":-2,"dx":-13},
"layer":[
{"data":{"name":"dark"},"mark":{"type":"rect","color":"#d3d3d3"},"encoding":{"x":{"field":"h","type":"quantitative","scale":{"domain":[0,72],"nice":false,"zero":false},"axis":null},"x2":{"field":"h2"},"y":{"datum":0.805,"type":"quantitative","scale":{"domain":[0.8,1.5],"nice":false,"zero":false},"title":["Delta Wave Activity","(1-4Hz; x100%)"],"axis":{"values":[0.8,0.9,1,1.1,1.2,1.3,1.4,1.5],"format":".1f","labelOverlap":false}},"y2":{"datum":1.508}}},
{"data":{"values":[{"h":24}]},"mark":{"type":"rule","color":"#ff0000","strokeDash":[4,2],"strokeWidth":1.6},"encoding":{"x":{"field":"h","type":"quantitative","scale":{"domain":[0,72],"nice":false,"zero":false},"axis":null},"y":{"datum":1.5,"type":"quantitative","scale":{"domain":[0.8,1.5],"nice":false,"zero":false},"title":["Delta Wave Activity","(1-4Hz; x100%)"],"axis":{"values":[0.8,0.9,1,1.1,1.2,1.3,1.4,1.5],"format":".1f","labelOverlap":false}},"y2":{"datum":0.55}}},
{"data":{"values":[{"h":30}]},"mark":{"type":"rule","color":"#ff5050","strokeDash":[3,2],"strokeWidth":1.3},"encoding":{"x":{"field":"h","type":"quantitative","scale":{"domain":[0,72],"nice":false,"zero":false},"axis":null},"y":{"datum":1.5,"type":"quantitative","scale":{"domain":[0.8,1.5],"nice":false,"zero":false},"title":["Delta Wave Activity","(1-4Hz; x100%)"],"axis":{"values":[0.8,0.9,1,1.1,1.2,1.3,1.4,1.5],"format":".1f","labelOverlap":false}},"y2":{"datum":0.55}}},
{"data":{"name":"Bc"},"mark":{"type":"line","color":"#000","strokeWidth":1.6},"encoding":{"x":{"field":"h","type":"quantitative","scale":{"domain":[0,72],"nice":false,"zero":false},"axis":null},"y":{"field":"v","type":"quantitative","scale":{"domain":[0.8,1.5],"nice":false,"zero":false},"title":["Delta Wave Activity","(1-4Hz; x100%)"],"axis":{"values":[0.8,0.9,1,1.1,1.2,1.3,1.4,1.5],"format":".1f","labelOverlap":false}}}},
{"data":{"name":"Bc"},"mark":{"type":"errorbar","color":"#000","ticks":true,"size":6,"thickness":1.3},"encoding":{"x":{"field":"h","type":"quantitative","scale":{"domain":[0,72],"nice":false,"zero":false},"axis":null},"y":{"field":"v","type":"quantitative","scale":{"domain":[0.8,1.5],"nice":false,"zero":false},"title":["Delta Wave Activity","(1-4Hz; x100%)"],"axis":{"values":[0.8,0.9,1,1.1,1.2,1.3,1.4,1.5],"format":".1f","labelOverlap":false}},"yError":{"field":"e"}}},
{"data":{"name":"Bc"},"mark":{"type":"circle","color":"#000","size":25,"opacity":1},"encoding":{"x":{"field":"h","type":"quantitative","scale":{"domain":[0,72],"nice":false,"zero":false},"axis":null},"y":{"field":"v","type":"quantitative","scale":{"domain":[0.8,1.5],"nice":false,"zero":false},"title":["Delta Wave Activity","(1-4Hz; x100%)"],"axis":{"values":[0.8,0.9,1,1.1,1.2,1.3,1.4,1.5],"format":".1f","labelOverlap":false}}}},
{"data":{"name":"Br"},"mark":{"type":"line","color":"#ff0000","strokeWidth":1.6},"encoding":{"x":{"field":"h","type":"quantitative","scale":{"domain":[0,72],"nice":false,"zero":false},"axis":null},"y":{"field":"v","type":"quantitative","scale":{"domain":[0.8,1.5],"nice":false,"zero":false},"title":["Delta Wave Activity","(1-4Hz; x100%)"],"axis":{"values":[0.8,0.9,1,1.1,1.2,1.3,1.4,1.5],"format":".1f","labelOverlap":false}}}},
{"data":{"name":"Br"},"transform":[{"filter":"datum.h > 24"}],"mark":{"type":"errorbar","color":"#ff0000","ticks":true,"size":6,"thickness":1.3},"encoding":{"x":{"field":"h","type":"quantitative","scale":{"domain":[0,72],"nice":false,"zero":false},"axis":null},"y":{"field":"v","type":"quantitative","scale":{"domain":[0.8,1.5],"nice":false,"zero":false},"title":["Delta Wave Activity","(1-4Hz; x100%)"],"axis":{"values":[0.8,0.9,1,1.1,1.2,1.3,1.4,1.5],"format":".1f","labelOverlap":false}},"yError":{"field":"e"},"yError2":{"field":"e2"}}},
{"data":{"name":"Br"},"transform":[{"filter":"datum.h > 24"}],"mark":{"type":"circle","color":"#ff0000","size":25,"opacity":1},"encoding":{"x":{"field":"h","type":"quantitative","scale":{"domain":[0,72],"nice":false,"zero":false},"axis":null},"y":{"field":"v","type":"quantitative","scale":{"domain":[0.8,1.5],"nice":false,"zero":false},"title":["Delta Wave Activity","(1-4Hz; x100%)"],"axis":{"values":[0.8,0.9,1,1.1,1.2,1.3,1.4,1.5],"format":".1f","labelOverlap":false}}}},
{"data":{"name":"Bb"},"mark":{"type":"line","color":"#0000ff","strokeWidth":1.6},"encoding":{"x":{"field":"h","type":"quantitative","scale":{"domain":[0,72],"nice":false,"zero":false},"axis":null},"y":{"field":"v","type":"quantitative","scale":{"domain":[0.8,1.5],"nice":false,"zero":false},"title":["Delta Wave Activity","(1-4Hz; x100%)"],"axis":{"values":[0.8,0.9,1,1.1,1.2,1.3,1.4,1.5],"format":".1f","labelOverlap":false}}}},
{"data":{"name":"Bb"},"transform":[{"filter":"datum.h > 48"}],"mark":{"type":"errorbar","color":"#0000ff","ticks":true,"size":6,"thickness":1.3},"encoding":{"x":{"field":"h","type":"quantitative","scale":{"domain":[0,72],"nice":false,"zero":false},"axis":null},"y":{"field":"v","type":"quantitative","scale":{"domain":[0.8,1.5],"nice":false,"zero":false},"title":["Delta Wave Activity","(1-4Hz; x100%)"],"axis":{"values":[0.8,0.9,1,1.1,1.2,1.3,1.4,1.5],"format":".1f","labelOverlap":false}},"yError":{"field":"e"}}},
{"data":{"name":"Bb"},"transform":[{"filter":"datum.h > 48"}],"mark":{"type":"circle","color":"#0000ff","size":25,"opacity":1},"encoding":{"x":{"field":"h","type":"quantitative","scale":{"domain":[0,72],"nice":false,"zero":false},"axis":null},"y":{"field":"v","type":"quantitative","scale":{"domain":[0.8,1.5],"nice":false,"zero":false},"title":["Delta Wave Activity","(1-4Hz; x100%)"],"axis":{"values":[0.8,0.9,1,1.1,1.2,1.3,1.4,1.5],"format":".1f","labelOverlap":false}}}},
{"data":{"name":"Bt"},"mark":{"type":"point","shape":"triangle-up","filled":true,"color":"#ff0000","size":65,"opacity":1},"encoding":{"x":{"field":"h","type":"quantitative","scale":{"domain":[0,72],"nice":false,"zero":false},"axis":null},"y":{"datum":1.483,"type":"quantitative","scale":{"domain":[0.8,1.5],"nice":false,"zero":false},"title":["Delta Wave Activity","(1-4Hz; x100%)"],"axis":{"values":[0.8,0.9,1,1.1,1.2,1.3,1.4,1.5],"format":".1f","labelOverlap":false}}}}
]
},
{
"width":652,"height":140,
"title":{"text":"C","offset":0,"dx":-13},
"layer":[
{"data":{"name":"dark"},"mark":{"type":"rect","color":"#d3d3d3"},"encoding":{"x":{"field":"h","type":"quantitative","scale":{"domain":[0,72],"nice":false,"zero":false},"axis":null},"x2":{"field":"h2"},"y":{"datum":0.8,"type":"quantitative","scale":{"domain":[0.8,1.4],"nice":false,"zero":false},"title":["Spindles Activity","(7-15Hz; x100%)"],"axis":{"values":[0.8,0.9,1,1.1,1.2,1.3,1.4],"format":".1f","labelOverlap":false}},"y2":{"datum":1.41}}},
{"data":{"values":[{"h":24}]},"mark":{"type":"rule","color":"#ff0000","strokeDash":[4,2],"strokeWidth":1.6},"encoding":{"x":{"field":"h","type":"quantitative","scale":{"domain":[0,72],"nice":false,"zero":false},"axis":null},"y":{"datum":1.4,"type":"quantitative","scale":{"domain":[0.8,1.4],"nice":false,"zero":false},"title":["Spindles Activity","(7-15Hz; x100%)"],"axis":{"values":[0.8,0.9,1,1.1,1.2,1.3,1.4],"format":".1f","labelOverlap":false}},"y2":{"datum":0.586}}},
{"data":{"values":[{"h":30}]},"mark":{"type":"rule","color":"#ff5050","strokeDash":[3,2],"strokeWidth":1.3},"encoding":{"x":{"field":"h","type":"quantitative","scale":{"domain":[0,72],"nice":false,"zero":false},"axis":null},"y":{"datum":1.4,"type":"quantitative","scale":{"domain":[0.8,1.4],"nice":false,"zero":false},"title":["Spindles Activity","(7-15Hz; x100%)"],"axis":{"values":[0.8,0.9,1,1.1,1.2,1.3,1.4],"format":".1f","labelOverlap":false}},"y2":{"datum":0.586}}},
{"data":{"name":"Cc"},"mark":{"type":"line","color":"#000","strokeWidth":1.6},"encoding":{"x":{"field":"h","type":"quantitative","scale":{"domain":[0,72],"nice":false,"zero":false},"axis":null},"y":{"field":"v","type":"quantitative","scale":{"domain":[0.8,1.4],"nice":false,"zero":false},"title":["Spindles Activity","(7-15Hz; x100%)"],"axis":{"values":[0.8,0.9,1,1.1,1.2,1.3,1.4],"format":".1f","labelOverlap":false}}}},
{"data":{"name":"Cc"},"mark":{"type":"errorbar","color":"#000","ticks":true,"size":6,"thickness":1.3},"encoding":{"x":{"field":"h","type":"quantitative","scale":{"domain":[0,72],"nice":false,"zero":false},"axis":null},"y":{"field":"v","type":"quantitative","scale":{"domain":[0.8,1.4],"nice":false,"zero":false},"title":["Spindles Activity","(7-15Hz; x100%)"],"axis":{"values":[0.8,0.9,1,1.1,1.2,1.3,1.4],"format":".1f","labelOverlap":false}},"yError":{"field":"e"}}},
{"data":{"name":"Cc"},"mark":{"type":"circle","color":"#000","size":25,"opacity":1},"encoding":{"x":{"field":"h","type":"quantitative","scale":{"domain":[0,72],"nice":false,"zero":false},"axis":null},"y":{"field":"v","type":"quantitative","scale":{"domain":[0.8,1.4],"nice":false,"zero":false},"title":["Spindles Activity","(7-15Hz; x100%)"],"axis":{"values":[0.8,0.9,1,1.1,1.2,1.3,1.4],"format":".1f","labelOverlap":false}}}},
{"data":{"name":"Cr"},"mark":{"type":"line","color":"#ff0000","strokeWidth":1.6},"encoding":{"x":{"field":"h","type":"quantitative","scale":{"domain":[0,72],"nice":false,"zero":false},"axis":null},"y":{"field":"v","type":"quantitative","scale":{"domain":[0.8,1.4],"nice":false,"zero":false},"title":["Spindles Activity","(7-15Hz; x100%)"],"axis":{"values":[0.8,0.9,1,1.1,1.2,1.3,1.4],"format":".1f","labelOverlap":false}}}},
{"data":{"name":"Cr"},"transform":[{"filter":"datum.h > 24"}],"mark":{"type":"errorbar","color":"#ff0000","ticks":true,"size":6,"thickness":1.3},"encoding":{"x":{"field":"h","type":"quantitative","scale":{"domain":[0,72],"nice":false,"zero":false},"axis":null},"y":{"field":"v","type":"quantitative","scale":{"domain":[0.8,1.4],"nice":false,"zero":false},"title":["Spindles Activity","(7-15Hz; x100%)"],"axis":{"values":[0.8,0.9,1,1.1,1.2,1.3,1.4],"format":".1f","labelOverlap":false}},"yError":{"field":"e"},"yError2":{"field":"e2"}}},
{"data":{"name":"Cr"},"transform":[{"filter":"datum.h > 24"}],"mark":{"type":"circle","color":"#ff0000","size":25,"opacity":1},"encoding":{"x":{"field":"h","type":"quantitative","scale":{"domain":[0,72],"nice":false,"zero":false},"axis":null},"y":{"field":"v","type":"quantitative","scale":{"domain":[0.8,1.4],"nice":false,"zero":false},"title":["Spindles Activity","(7-15Hz; x100%)"],"axis":{"values":[0.8,0.9,1,1.1,1.2,1.3,1.4],"format":".1f","labelOverlap":false}}}},
{"data":{"name":"Cb"},"mark":{"type":"line","color":"#0000ff","strokeWidth":1.6},"encoding":{"x":{"field":"h","type":"quantitative","scale":{"domain":[0,72],"nice":false,"zero":false},"axis":null},"y":{"field":"v","type":"quantitative","scale":{"domain":[0.8,1.4],"nice":false,"zero":false},"title":["Spindles Activity","(7-15Hz; x100%)"],"axis":{"values":[0.8,0.9,1,1.1,1.2,1.3,1.4],"format":".1f","labelOverlap":false}}}},
{"data":{"name":"Cb"},"transform":[{"filter":"datum.h > 48"}],"mark":{"type":"errorbar","color":"#0000ff","ticks":true,"size":6,"thickness":1.3},"encoding":{"x":{"field":"h","type":"quantitative","scale":{"domain":[0,72],"nice":false,"zero":false},"axis":null},"y":{"field":"v","type":"quantitative","scale":{"domain":[0.8,1.4],"nice":false,"zero":false},"title":["Spindles Activity","(7-15Hz; x100%)"],"axis":{"values":[0.8,0.9,1,1.1,1.2,1.3,1.4],"format":".1f","labelOverlap":false}},"yError":{"field":"e"}}},
{"data":{"name":"Cb"},"transform":[{"filter":"datum.h > 48"}],"mark":{"type":"circle","color":"#0000ff","size":25,"opacity":1},"encoding":{"x":{"field":"h","type":"quantitative","scale":{"domain":[0,72],"nice":false,"zero":false},"axis":null},"y":{"field":"v","type":"quantitative","scale":{"domain":[0.8,1.4],"nice":false,"zero":false},"title":["Spindles Activity","(7-15Hz; x100%)"],"axis":{"values":[0.8,0.9,1,1.1,1.2,1.3,1.4],"format":".1f","labelOverlap":false}}}},
{"data":{"name":"Ct"},"mark":{"type":"point","shape":"triangle-up","filled":true,"color":"#ff0000","size":65,"opacity":1},"encoding":{"x":{"field":"h","type":"quantitative","scale":{"domain":[0,72],"nice":false,"zero":false},"axis":null},"y":{"datum":1.371,"type":"quantitative","scale":{"domain":[0.8,1.4],"nice":false,"zero":false},"title":["Spindles Activity","(7-15Hz; x100%)"],"axis":{"values":[0.8,0.9,1,1.1,1.2,1.3,1.4],"format":".1f","labelOverlap":false}}}}
]
},
{
"width":652,"height":140,
"title":{"text":"D","offset":1,"dx":-13},
"layer":[
{"data":{"name":"dark"},"mark":{"type":"rect","color":"#d3d3d3"},"encoding":{"x":{"field":"h","type":"quantitative","scale":{"domain":[0,72],"nice":false,"zero":false},"axis":null},"x2":{"field":"h2"},"y":{"datum":0.8,"type":"quantitative","scale":{"domain":[0.8,1.6],"nice":false,"zero":false},"title":["Wake Theta Activity","(6-9Hz; x100%)"],"axis":{"values":[0.8,1,1.2,1.4,1.6],"format":".1f","labelOverlap":false}},"y2":{"datum":1.609}}},
{"data":{"values":[{"h":24}]},"mark":{"type":"rule","color":"#ff0000","strokeDash":[4,2],"strokeWidth":1.6},"encoding":{"x":{"field":"h","type":"quantitative","scale":{"domain":[0,72],"nice":false,"zero":false},"axis":null},"y":{"datum":1.6,"type":"quantitative","scale":{"domain":[0.8,1.6],"nice":false,"zero":false},"title":["Wake Theta Activity","(6-9Hz; x100%)"],"axis":{"values":[0.8,1,1.2,1.4,1.6],"format":".1f","labelOverlap":false}},"y2":{"datum":0.514}}},
{"data":{"values":[{"h":30}]},"mark":{"type":"rule","color":"#ff5050","strokeDash":[3,2],"strokeWidth":1.3},"encoding":{"x":{"field":"h","type":"quantitative","scale":{"domain":[0,72],"nice":false,"zero":false},"axis":null},"y":{"datum":1.6,"type":"quantitative","scale":{"domain":[0.8,1.6],"nice":false,"zero":false},"title":["Wake Theta Activity","(6-9Hz; x100%)"],"axis":{"values":[0.8,1,1.2,1.4,1.6],"format":".1f","labelOverlap":false}},"y2":{"datum":0.514}}},
{"data":{"name":"Dc"},"mark":{"type":"line","color":"#000","strokeWidth":1.6},"encoding":{"x":{"field":"h","type":"quantitative","scale":{"domain":[0,72],"nice":false,"zero":false},"axis":null},"y":{"field":"v","type":"quantitative","scale":{"domain":[0.8,1.6],"nice":false,"zero":false},"title":["Wake Theta Activity","(6-9Hz; x100%)"],"axis":{"values":[0.8,1,1.2,1.4,1.6],"format":".1f","labelOverlap":false}}}},
{"data":{"name":"Dc"},"mark":{"type":"errorbar","color":"#000","ticks":true,"size":6,"thickness":1.3},"encoding":{"x":{"field":"h","type":"quantitative","scale":{"domain":[0,72],"nice":false,"zero":false},"axis":null},"y":{"field":"v","type":"quantitative","scale":{"domain":[0.8,1.6],"nice":false,"zero":false},"title":["Wake Theta Activity","(6-9Hz; x100%)"],"axis":{"values":[0.8,1,1.2,1.4,1.6],"format":".1f","labelOverlap":false}},"yError":{"field":"e"}}},
{"data":{"name":"Dc"},"mark":{"type":"circle","color":"#000","size":25,"opacity":1},"encoding":{"x":{"field":"h","type":"quantitative","scale":{"domain":[0,72],"nice":false,"zero":false},"axis":null},"y":{"field":"v","type":"quantitative","scale":{"domain":[0.8,1.6],"nice":false,"zero":false},"title":["Wake Theta Activity","(6-9Hz; x100%)"],"axis":{"values":[0.8,1,1.2,1.4,1.6],"format":".1f","labelOverlap":false}}}},
{"data":{"name":"Dr"},"mark":{"type":"line","color":"#ff0000","strokeWidth":1.6},"encoding":{"x":{"field":"h","type":"quantitative","scale":{"domain":[0,72],"nice":false,"zero":false},"axis":null},"y":{"field":"v","type":"quantitative","scale":{"domain":[0.8,1.6],"nice":false,"zero":false},"title":["Wake Theta Activity","(6-9Hz; x100%)"],"axis":{"values":[0.8,1,1.2,1.4,1.6],"format":".1f","labelOverlap":false}}}},
{"data":{"name":"Dr"},"transform":[{"filter":"datum.h > 24"}],"mark":{"type":"errorbar","color":"#ff0000","ticks":true,"size":6,"thickness":1.3},"encoding":{"x":{"field":"h","type":"quantitative","scale":{"domain":[0,72],"nice":false,"zero":false},"axis":null},"y":{"field":"v","type":"quantitative","scale":{"domain":[0.8,1.6],"nice":false,"zero":false},"title":["Wake Theta Activity","(6-9Hz; x100%)"],"axis":{"values":[0.8,1,1.2,1.4,1.6],"format":".1f","labelOverlap":false}},"yError":{"field":"e"},"yError2":{"field":"e2"}}},
{"data":{"name":"Dr"},"transform":[{"filter":"datum.h > 24"}],"mark":{"type":"circle","color":"#ff0000","size":25,"opacity":1},"encoding":{"x":{"field":"h","type":"quantitative","scale":{"domain":[0,72],"nice":false,"zero":false},"axis":null},"y":{"field":"v","type":"quantitative","scale":{"domain":[0.8,1.6],"nice":false,"zero":false},"title":["Wake Theta Activity","(6-9Hz; x100%)"],"axis":{"values":[0.8,1,1.2,1.4,1.6],"format":".1f","labelOverlap":false}}}},
{"data":{"name":"Db"},"mark":{"type":"line","color":"#0000ff","strokeWidth":1.6},"encoding":{"x":{"field":"h","type":"quantitative","scale":{"domain":[0,72],"nice":false,"zero":false},"axis":null},"y":{"field":"v","type":"quantitative","scale":{"domain":[0.8,1.6],"nice":false,"zero":false},"title":["Wake Theta Activity","(6-9Hz; x100%)"],"axis":{"values":[0.8,1,1.2,1.4,1.6],"format":".1f","labelOverlap":false}}}},
{"data":{"name":"Db"},"transform":[{"filter":"datum.h > 48"}],"mark":{"type":"errorbar","color":"#0000ff","ticks":true,"size":6,"thickness":1.3},"encoding":{"x":{"field":"h","type":"quantitative","scale":{"domain":[0,72],"nice":false,"zero":false},"axis":null},"y":{"field":"v","type":"quantitative","scale":{"domain":[0.8,1.6],"nice":false,"zero":false},"title":["Wake Theta Activity","(6-9Hz; x100%)"],"axis":{"values":[0.8,1,1.2,1.4,1.6],"format":".1f","labelOverlap":false}},"yError":{"field":"e"}}},
{"data":{"name":"Db"},"transform":[{"filter":"datum.h > 48"}],"mark":{"type":"circle","color":"#0000ff","size":25,"opacity":1},"encoding":{"x":{"field":"h","type":"quantitative","scale":{"domain":[0,72],"nice":false,"zero":false},"axis":null},"y":{"field":"v","type":"quantitative","scale":{"domain":[0.8,1.6],"nice":false,"zero":false},"title":["Wake Theta Activity","(6-9Hz; x100%)"],"axis":{"values":[0.8,1,1.2,1.4,1.6],"format":".1f","labelOverlap":false}}}},
{"data":{"name":"Dt"},"mark":{"type":"point","shape":"triangle-up","filled":true,"color":"#ff0000","size":65,"opacity":1},"encoding":{"x":{"field":"h","type":"quantitative","scale":{"domain":[0,72],"nice":false,"zero":false},"axis":null},"y":{"datum":1.575,"type":"quantitative","scale":{"domain":[0.8,1.6],"nice":false,"zero":false},"title":["Wake Theta Activity","(6-9Hz; x100%)"],"axis":{"values":[0.8,1,1.2,1.4,1.6],"format":".1f","labelOverlap":false}}}}
]
},
{
"width":652,"height":140,
"title":{"text":"E","offset":3,"dx":-13},
"layer":[
{"data":{"name":"dark"},"mark":{"type":"rect","color":"#d3d3d3"},"encoding":{"x":{"field":"h","type":"quantitative","scale":{"domain":[0,72],"nice":false,"zero":false},"title":"Time (h)"},"x2":{"field":"h2"},"y":{"datum":0.736,"type":"quantitative","scale":{"domain":[0.8,1.4],"nice":false,"zero":false},"title":["Wake Beta Activity","(12.5-25Hz; x100%)"],"axis":{"values":[0.8,0.9,1,1.1,1.2,1.3,1.4],"format":".1f","labelOverlap":false}},"y2":{"datum":1.407}}},
{"data":{"values":[{"h":24}]},"mark":{"type":"rule","color":"#ff0000","strokeDash":[4,2],"strokeWidth":1.6},"encoding":{"x":{"field":"h","type":"quantitative","scale":{"domain":[0,72],"nice":false,"zero":false},"title":"Time (h)"},"y":{"datum":1.4,"type":"quantitative","scale":{"domain":[0.8,1.4],"nice":false,"zero":false},"title":["Wake Beta Activity","(12.5-25Hz; x100%)"],"axis":{"values":[0.8,0.9,1,1.1,1.2,1.3,1.4],"format":".1f","labelOverlap":false}},"y2":{"datum":0.736}}},
{"data":{"values":[{"h":30}]},"mark":{"type":"rule","color":"#ff5050","strokeDash":[3,2],"strokeWidth":1.3},"encoding":{"x":{"field":"h","type":"quantitative","scale":{"domain":[0,72],"nice":false,"zero":false},"title":"Time (h)"},"y":{"datum":1.4,"type":"quantitative","scale":{"domain":[0.8,1.4],"nice":false,"zero":false},"title":["Wake Beta Activity","(12.5-25Hz; x100%)"],"axis":{"values":[0.8,0.9,1,1.1,1.2,1.3,1.4],"format":".1f","labelOverlap":false}},"y2":{"datum":0.736}}},
{"data":{"name":"Ec"},"mark":{"type":"line","color":"#000","strokeWidth":1.6},"encoding":{"x":{"field":"h","type":"quantitative","scale":{"domain":[0,72],"nice":false,"zero":false},"title":"Time (h)","axis":{"values":[0,3,6,9,12,15,18,21,24,27,30,33,36,39,42,45,48,51,54,57,60,63,66,69,72],"labelExpr":"datum.value % 6 != 0 ? '' : ((datum.value == 24 || datum.value == 48) ? '24/0' : (datum.value == 72 ? '24' : toString(datum.value % 24)))","offset":15,"titleFontSize":16,"labelPadding":3,"titlePadding":4,"labelFlush":false}},"y":{"field":"v","type":"quantitative","scale":{"domain":[0.8,1.4],"nice":false,"zero":false},"title":["Wake Beta Activity","(12.5-25Hz; x100%)"],"axis":{"values":[0.8,0.9,1,1.1,1.2,1.3,1.4],"format":".1f","labelOverlap":false}}}},
{"data":{"name":"Ec"},"mark":{"type":"errorbar","color":"#000","ticks":true,"size":6,"thickness":1.3},"encoding":{"x":{"field":"h","type":"quantitative","scale":{"domain":[0,72],"nice":false,"zero":false},"title":"Time (h)"},"y":{"field":"v","type":"quantitative","scale":{"domain":[0.8,1.4],"nice":false,"zero":false},"title":["Wake Beta Activity","(12.5-25Hz; x100%)"],"axis":{"values":[0.8,0.9,1,1.1,1.2,1.3,1.4],"format":".1f","labelOverlap":false}},"yError":{"field":"e"}}},
{"data":{"name":"Ec"},"mark":{"type":"circle","color":"#000","size":25,"opacity":1},"encoding":{"x":{"field":"h","type":"quantitative","scale":{"domain":[0,72],"nice":false,"zero":false},"title":"Time (h)"},"y":{"field":"v","type":"quantitative","scale":{"domain":[0.8,1.4],"nice":false,"zero":false},"title":["Wake Beta Activity","(12.5-25Hz; x100%)"],"axis":{"values":[0.8,0.9,1,1.1,1.2,1.3,1.4],"format":".1f","labelOverlap":false}}}},
{"data":{"name":"Er"},"mark":{"type":"line","color":"#ff0000","strokeWidth":1.6},"encoding":{"x":{"field":"h","type":"quantitative","scale":{"domain":[0,72],"nice":false,"zero":false},"title":"Time (h)"},"y":{"field":"v","type":"quantitative","scale":{"domain":[0.8,1.4],"nice":false,"zero":false},"title":["Wake Beta Activity","(12.5-25Hz; x100%)"],"axis":{"values":[0.8,0.9,1,1.1,1.2,1.3,1.4],"format":".1f","labelOverlap":false}}}},
{"data":{"name":"Er"},"transform":[{"filter":"datum.h > 24"}],"mark":{"type":"errorbar","color":"#ff0000","ticks":true,"size":6,"thickness":1.3},"encoding":{"x":{"field":"h","type":"quantitative","scale":{"domain":[0,72],"nice":false,"zero":false},"title":"Time (h)"},"y":{"field":"v","type":"quantitative","scale":{"domain":[0.8,1.4],"nice":false,"zero":false},"title":["Wake Beta Activity","(12.5-25Hz; x100%)"],"axis":{"values":[0.8,0.9,1,1.1,1.2,1.3,1.4],"format":".1f","labelOverlap":false}},"yError":{"field":"e"},"yError2":{"field":"e2"}}},
{"data":{"name":"Er"},"transform":[{"filter":"datum.h > 24"}],"mark":{"type":"circle","color":"#ff0000","size":25,"opacity":1},"encoding":{"x":{"field":"h","type":"quantitative","scale":{"domain":[0,72],"nice":false,"zero":false},"title":"Time (h)"},"y":{"field":"v","type":"quantitative","scale":{"domain":[0.8,1.4],"nice":false,"zero":false},"title":["Wake Beta Activity","(12.5-25Hz; x100%)"],"axis":{"values":[0.8,0.9,1,1.1,1.2,1.3,1.4],"format":".1f","labelOverlap":false}}}},
{"data":{"name":"Eb"},"mark":{"type":"line","color":"#0000ff","strokeWidth":1.6},"encoding":{"x":{"field":"h","type":"quantitative","scale":{"domain":[0,72],"nice":false,"zero":false},"title":"Time (h)"},"y":{"field":"v","type":"quantitative","scale":{"domain":[0.8,1.4],"nice":false,"zero":false},"title":["Wake Beta Activity","(12.5-25Hz; x100%)"],"axis":{"values":[0.8,0.9,1,1.1,1.2,1.3,1.4],"format":".1f","labelOverlap":false}}}},
{"data":{"name":"Eb"},"transform":[{"filter":"datum.h > 48"}],"mark":{"type":"errorbar","color":"#0000ff","ticks":true,"size":6,"thickness":1.3},"encoding":{"x":{"field":"h","type":"quantitative","scale":{"domain":[0,72],"nice":false,"zero":false},"title":"Time (h)"},"y":{"field":"v","type":"quantitative","scale":{"domain":[0.8,1.4],"nice":false,"zero":false},"title":["Wake Beta Activity","(12.5-25Hz; x100%)"],"axis":{"values":[0.8,0.9,1,1.1,1.2,1.3,1.4],"format":".1f","labelOverlap":false}},"yError":{"field":"e"}}},
{"data":{"name":"Eb"},"transform":[{"filter":"datum.h > 48"}],"mark":{"type":"circle","color":"#0000ff","size":25,"opacity":1},"encoding":{"x":{"field":"h","type":"quantitative","scale":{"domain":[0,72],"nice":false,"zero":false},"title":"Time (h)"},"y":{"field":"v","type":"quantitative","scale":{"domain":[0.8,1.4],"nice":false,"zero":false},"title":["Wake Beta Activity","(12.5-25Hz; x100%)"],"axis":{"values":[0.8,0.9,1,1.1,1.2,1.3,1.4],"format":".1f","labelOverlap":false}}}},
{"data":{"name":"Et"},"mark":{"type":"point","shape":"triangle-up","filled":true,"color":"#ff0000","size":65,"opacity":1},"encoding":{"x":{"field":"h","type":"quantitative","scale":{"domain":[0,72],"nice":false,"zero":false},"title":"Time (h)"},"y":{"datum":1.374,"type":"quantitative","scale":{"domain":[0.8,1.4],"nice":false,"zero":false},"title":["Wake Beta Activity","(12.5-25Hz; x100%)"],"axis":{"values":[0.8,0.9,1,1.1,1.2,1.3,1.4],"format":".1f","labelOverlap":false}}}}
]
}
]
}
],
"config":{
"view":{"stroke":null},
"font":"Liberation Sans",
"axis":{"grid":false,"domainColor":"#000","domainWidth":2,"tickColor":"#000","tickWidth":2,"tickSize":5,"labelColor":"#000","labelFont":"Liberation Sans","labelFontWeight":"bold","labelFontSize":14,"labelOverlap":false,"titleColor":"#000","titleFont":"Liberation Sans","titleFontWeight":"bold","titleFontSize":14.5},
"axisY":{"offset":16,"labelPadding":3,"titlePadding":5,"titleLineHeight":16},
"title":{"fontSize":26,"fontWeight":"bold","anchor":"start","frame":"bounds","color":"#000","font":"Liberation Sans","baseline":"alphabetic"}
}
}
